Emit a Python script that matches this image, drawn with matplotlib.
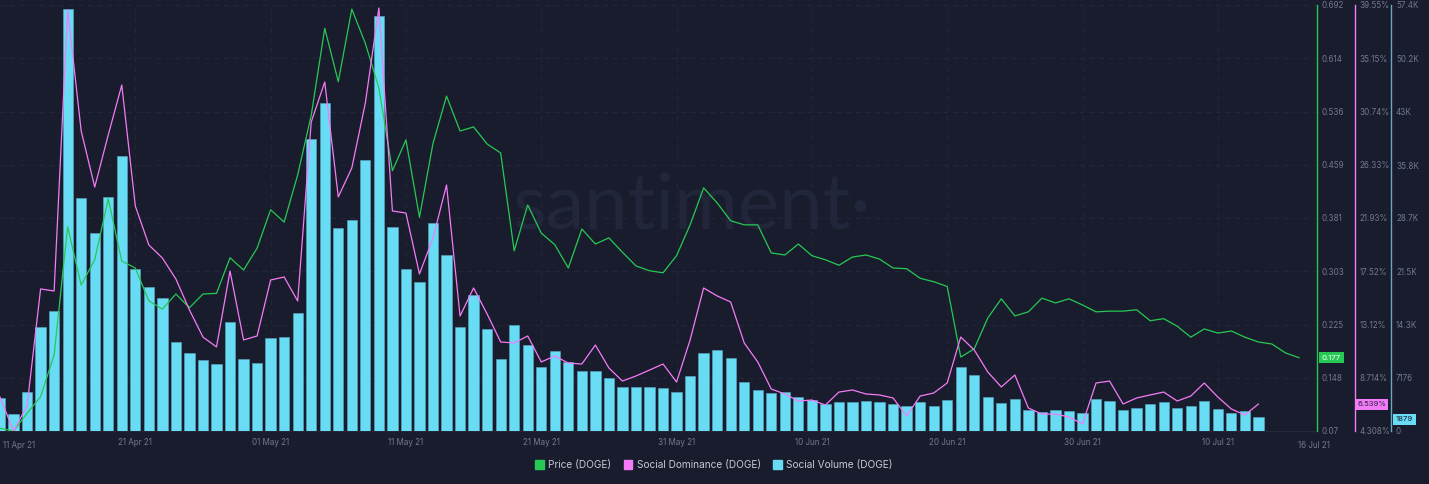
import matplotlib
matplotlib.use('Agg')
import matplotlib.pyplot as plt
from matplotlib.patches import Patch
import pandas as pd

# Daily values, starting 11 Apr 2021
social_volume = [
    4445, 2290, 5250, 14010, 16160, 56840, 31390, 26670, 31520, 37040,
    21820, 19400, 17920, 11990, 10510, 9560, 9020, 14680, 9700, 9160,
    12530, 12660, 15890, 39330, 44180, 27340, 28420, 36500, 55900, 27480,
    21820, 20070, 28020, 23710, 14010, 18320, 13740, 9700, 14280, 11580,
    8620, 10780, 9290, 8080, 8080, 7140, 5930, 5930, 5930, 5790,
    5250, 7410, 10510, 10910, 9830, 6600, 5520, 5120, 5250, 4580,
    4180, 3640, 3910, 3910, 4040, 3910, 3640, 3370, 3910, 3370,
    4180, 8620, 7540, 4580, 3770, 4310, 2830, 2560, 2830, 2690,
    2420, 4310, 4040, 2830, 3100, 3640, 3910, 3100, 3370, 4040,
    2960, 2420, 2690, 1879]

social_dominance = [
    7.12, 4.31, 6.38, 16.06, 15.89, 39.14, 29.13, 24.49, 28.80, 32.93,
    22.92, 19.70, 18.62, 16.88, 14.32, 12.08, 11.26, 17.54, 11.84, 12.17,
    16.80, 17.05, 15.06, 29.87, 33.18, 23.67, 26.07, 31.44, 39.30, 22.51,
    22.34, 17.30, 20.27, 24.66, 13.82, 16.14, 13.99, 11.67, 11.59, 12.17,
    10.02, 10.51, 9.93, 9.85, 11.42, 9.52, 8.44, 8.86, 9.35, 9.85,
    8.36, 11.84, 16.14, 15.48, 14.98, 11.59, 10.02, 7.78, 7.37, 6.79,
    6.87, 6.46, 7.53, 7.70, 7.37, 7.29, 7.04, 5.55, 7.20, 7.45,
    8.28, 12.08, 11.01, 9.19, 7.95, 8.94, 6.21, 5.71, 5.71, 5.47,
    4.89, 8.28, 8.44, 6.54, 7.04, 7.29, 7.53, 6.79, 7.20, 8.28,
    7.12, 6.13, 5.63, 6.54]

price = [
    0.074, 0.070, 0.096, 0.120, 0.181, 0.368, 0.283, 0.320, 0.409, 0.318,
    0.308, 0.260, 0.248, 0.270, 0.250, 0.270, 0.271, 0.323, 0.305, 0.337,
    0.393, 0.375, 0.444, 0.531, 0.658, 0.580, 0.686, 0.636, 0.571, 0.450,
    0.495, 0.382, 0.490, 0.559, 0.508, 0.514, 0.489, 0.476, 0.333, 0.400,
    0.359, 0.342, 0.308, 0.365, 0.343, 0.352, 0.331, 0.311, 0.304, 0.301,
    0.326, 0.371, 0.425, 0.403, 0.377, 0.371, 0.371, 0.330, 0.327, 0.343,
    0.326, 0.320, 0.312, 0.324, 0.327, 0.321, 0.308, 0.307, 0.293, 0.288,
    0.281, 0.178, 0.190, 0.235, 0.263, 0.238, 0.244, 0.264, 0.257, 0.263,
    0.254, 0.244, 0.245, 0.245, 0.247, 0.231, 0.234, 0.223, 0.207, 0.219,
    0.213, 0.216, 0.207, 0.200, 0.197, 0.184, 0.177]

# Axis labels
price_ticks = [0.07, 0.148, 0.225, 0.303, 0.381, 0.459, 0.536, 0.614, 0.692]
price_labels = ['0.07', '0.148', '0.225', '0.303', '0.381', '0.459', '0.536', '0.614', '0.692']
dom_ticks = [4.308, 8.714, 13.12, 17.52, 21.93, 26.33, 30.74, 35.15, 39.55]
dom_labels = ['4.308%', '8.714%', '13.12%', '17.52%', '21.93%', '26.33%', '30.74%', '35.15%', '39.55%']
vol_ticks = [0, 7176, 14300, 21500, 28700, 35800, 43000, 50200, 57400]
vol_labels = ['0', '7176', '14.3K', '21.5K', '28.7K', '35.8K', '43K', '50.2K', '57.4K']
date_ticks = ['2021-04-21', '2021-05-01', '2021-05-11', '2021-05-21', '2021-05-31',
              '2021-06-10', '2021-06-20', '2021-06-30', '2021-07-10']

BG = '#191c2c'
GRID = '#232738'
TEXT = '#73788e'
GREEN = '#26c953'
PINK = '#f47bf7'
BLUE = '#68dbf5'

plt.rcParams['font.family'] = ['Inter', 'DejaVu Sans']

W, H = 1429, 484
fig = plt.figure(figsize=(W / 100, H / 100), dpi=100, facecolor=BG)
ax = fig.add_axes([0, (H - 431) / H, 1317 / W, 426 / H], facecolor=BG)

days = pd.date_range('2021-04-11', periods=len(price), freq='D')

# Bars sit on the base axes, the lines on twins so they draw on top
ax.bar(days[:len(social_volume)], social_volume, width=0.76, color=BLUE,
       edgecolor='#5aa9c2', linewidth=0.4, zorder=3)
ax.set_ylim(0, 57400)
ax.set_xlim(pd.Timestamp('2021-04-11'), pd.Timestamp('2021-04-11') + pd.Timedelta(days=97.33))

ax.set_xticks(pd.to_datetime(date_ticks))
ax.set_xticklabels([pd.Timestamp(d).strftime('%d %b %y') for d in date_ticks],
                   fontsize=5.8, color=TEXT)
ax.tick_params(axis='x', length=0, pad=5)
ax.grid(True, color=GRID, linestyle=(0, (5, 5)), linewidth=0.7, zorder=0)
ax.set_axisbelow(True)

# Labels at both ends get pushed inside the chart
for txt, day, dx in [('11 Apr 21', days[0], 13.5), ('16 Jul 21', days[-1], 10.5)]:
    ax.annotate(txt, xy=(day, 0), xytext=(dx, -10.5), textcoords='offset points',
                fontsize=5.8, color=TEXT, ha='center', va='center', annotation_clip=False)

ax.text(0.525, 0.525, 'santiment·', transform=ax.transAxes, fontsize=56, color='#22263a',
        ha='center', va='center', zorder=1, family=['Lato', 'DejaVu Sans'])

ax_price = ax.twinx()
ax_dom = ax.twinx()
ax_price.plot(days, price, color=GREEN, linewidth=0.9, zorder=4)
ax_dom.plot(days[:len(social_dominance)], social_dominance, color=PINK, linewidth=0.9, zorder=5)
ax_price.set_ylim(0.07, 0.692)
ax_dom.set_ylim(4.308, 39.55)

for a in (ax, ax_price, ax_dom):
    for s in ('top', 'left', 'bottom', 'right'):
        a.spines[s].set_visible(False)
ax.spines['bottom'].set_visible(True)
ax.spines['bottom'].set_color(GRID)


def style_axis(a, ticks, labels, color, offset_px):
    a.spines['right'].set_visible(True)
    a.spines['right'].set_position(('outward', offset_px * 0.72))
    a.spines['right'].set_color(color)
    a.spines['right'].set_linewidth(1.0)
    a.yaxis.set_ticks_position('right')
    a.set_yticks(ticks)
    a.set_yticklabels(labels, fontsize=5.8, color=TEXT)
    a.tick_params(axis='y', length=0, pad=3.6)
    a.patch.set_visible(False)


# Volume axis sits on a third twin so the base axes keep the gridlines
ax_vol = ax.twinx()
ax_vol.set_ylim(0, 57400)
for s in ('top', 'left', 'bottom'):
    ax_vol.spines[s].set_visible(False)
style_axis(ax_price, price_ticks, price_labels, '#2cc25a', 0)
style_axis(ax_dom, dom_ticks, dom_labels, '#f47bf7', 37.5)
style_axis(ax_vol, vol_ticks, vol_labels, '#68a8c0', 74)
ax.yaxis.set_ticks_position('none')
ax.set_yticks(vol_ticks)
ax.set_yticklabels([])


def badge(a, value, label, x_px, face, color, dy=0):
    a.annotate(label, xy=(1, value), xycoords=a.get_yaxis_transform(),
               xytext=(x_px * 0.72, dy), textcoords='offset points', fontsize=5.6,
               color=color, ha='center', va='center', annotation_clip=False,
               zorder=10,
               bbox=dict(boxstyle='square,pad=0.32', facecolor=face, edgecolor='none'))


badge(ax_price, price[-1], '0.177', 14.5, GREEN, 'white')
badge(ax_dom, social_dominance[-1], '6.539%', 54.5, PINK, '#2a2440')
badge(ax_vol, social_volume[-1], '1879', 87.5, BLUE, BG, dy=-1.5)

handles = [Patch(color=GREEN, label='Price (DOGE)'),
           Patch(color=PINK, label='Social Dominance (DOGE)'),
           Patch(color=BLUE, label='Social Volume (DOGE)')]
fig.legend(handles=handles, loc='center', bbox_to_anchor=(714 / W, 1 - 465 / H), ncol=3,
           frameon=False, fontsize=7.3, labelcolor='#c4c8d6', handlelength=0.85, handleheight=0.85,
           handletextpad=0.45, columnspacing=1.2)

fig.savefig('out.png', dpi=100, facecolor=BG)
